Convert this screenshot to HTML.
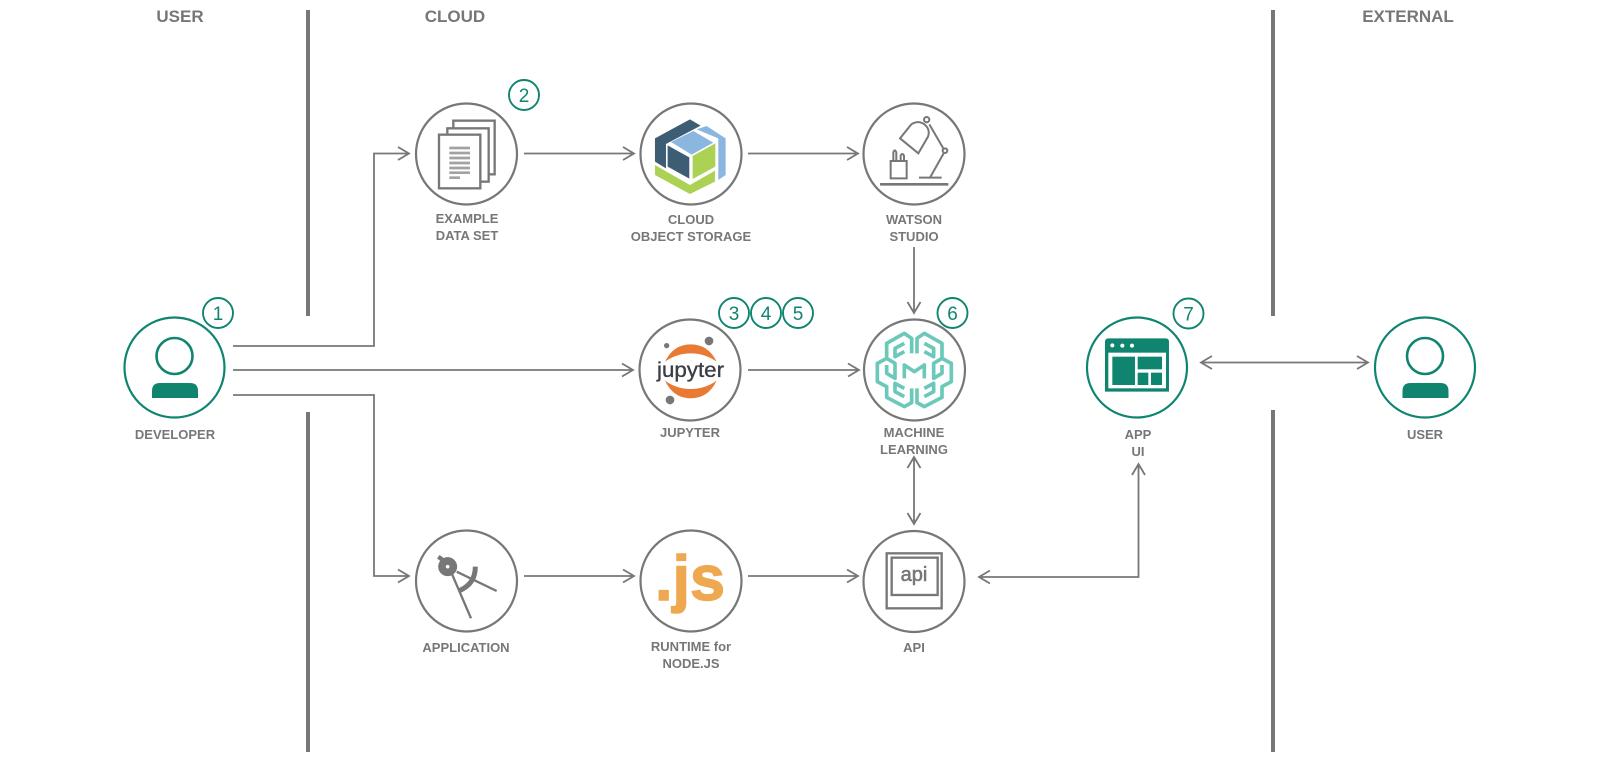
<!DOCTYPE html>
<html><head><meta charset="utf-8"><style>
html,body{margin:0;padding:0;background:#fff;width:1601px;height:763px;overflow:hidden}
svg{display:block}
.l{font:bold 13px "Liberation Sans",sans-serif;fill:#777;text-anchor:middle}
.h{font:bold 17px "Liberation Sans",sans-serif;fill:#777;text-anchor:middle}
.b{font:19px "Liberation Sans",sans-serif;fill:#0f8570;text-anchor:middle}
.c{fill:#fff;stroke:#777;stroke-width:2.2}
.g{fill:#fff;stroke:#0f8570;stroke-width:2.2}
.bd{fill:#fff;stroke:#0f8570;stroke-width:1.9}
.a{fill:none;stroke:#777;stroke-width:1.8}
</style></head><body>
<svg width="1601" height="763" viewBox="0 0 1601 763" xmlns="http://www.w3.org/2000/svg">
<!-- lanes -->
<g stroke="#777" stroke-width="4" fill="none">
<path d="M308 10V316M308 412V752M1273 10V316M1273 410V752"/>
</g>
<text class="h" x="180" y="22">USER</text>
<text class="h" x="455" y="22">CLOUD</text>
<text class="h" x="1408" y="22">EXTERNAL</text>

<!-- connectors -->
<g class="a">
<path d="M233 346H374V153.500H408M398 147L409 153.500L398 160"/>
<path d="M233 370H633M622 363.500L633 370L622 376.500"/>
<path d="M233 395H374V576H408M398 569.500L409 576L398 582.500"/>
<path d="M524 153.500H634M623 147L634 153.500L623 160"/>
<path d="M748 153.500H858M847 147L858 153.500L847 160"/>
<path d="M914 247V313M907.500 302L914 313L920.500 302"/>
<path d="M748 370H859M848 363.500L859 370L848 376.500"/>
<path d="M524 576H634M623 569.500L634 576L623 582.500"/>
<path d="M748 576H858M847 569.500L858 576L847 582.500"/>
<path d="M914 457V524M907.500 468L914 457L920.500 468M907.500 513L914 524L920.500 513"/>
<path d="M979 577H1138.500V464M990 570.500L979 577L990 583.500M1132 475L1138.500 464L1145 475"/>
<path d="M1201 362.500H1368M1212 356L1201 362.500L1212 369M1357 356L1368 362.500L1357 369"/>
</g>

<!-- circles -->
<circle class="g" cx="174.500" cy="367.500" r="50"/>
<circle class="c" cx="466.500" cy="154" r="50.500"/>
<circle class="c" cx="691" cy="154" r="50.500"/>
<circle class="c" cx="914" cy="154" r="50.500"/>
<circle class="c" cx="690" cy="370" r="50.500"/>
<circle class="c" cx="914.500" cy="370" r="50.500"/>
<circle class="c" cx="466.500" cy="581" r="50.500"/>
<circle class="c" cx="691" cy="581" r="50.500"/>
<circle class="c" cx="914" cy="581.500" r="50.500"/>
<circle class="g" cx="1137" cy="367.500" r="50"/>
<circle class="g" cx="1425" cy="367.500" r="50"/>

<!-- person icons -->
<circle cx="174.500" cy="356" r="18" fill="none" stroke="#0f8570" stroke-width="2.6"/>
<path d="M152 398V391Q152 383 160 383H190Q198 383 198 391V398Z" fill="#0f8570"/>
<circle cx="1425" cy="356" r="18" fill="none" stroke="#0f8570" stroke-width="2.6"/>
<path d="M1402.500 398V391Q1402.500 383 1410.500 383H1440.500Q1448.500 383 1448.500 391V398Z" fill="#0f8570"/>

<!-- documents -->
<g transform="translate(400,70) scale(.3333)" fill="#fff" stroke="#777" stroke-width="7">
<rect x="160" y="152" width="124" height="161"/>
<rect x="142" y="175" width="124" height="160"/>
<rect x="117" y="194" width="124" height="161"/>
<g stroke-width="8" stroke="#a2a2a2" fill="none">
<path d="M148 234H210M148 249H210M148 264H210M148 279H210M148 294H210M148 308H210M148 323H180"/>
</g>
</g>

<!-- object storage cube -->
<g transform="translate(400,70) scale(.3333)">
<path d="M765 205L870 148L902 167L798 222V295L765 275Z" fill="#3d5d75"/>
<path d="M803 226L868 262V326L803 290Z" fill="#3d5d75"/>
<path d="M813 216L880 183L940 218L875 254Z" fill="#8ab6e0"/>
<path d="M890 178L920 168L977 205V315L955 330V205Z" fill="#8ab6e0"/>
<path d="M878 258L946 220V290L878 327Z" fill="#abd155"/>
<path d="M765 285L870 345L945 302V335L870 372L765 315Z" fill="#abd155"/>
</g>

<!-- watson studio -->
<g transform="translate(840,95) scale(.3333)" fill="none" stroke="#777" stroke-width="6">
<path d="M180 130L214 88Q235 75 253 88Q272 103 264 125L235 175Z"/>
<circle cx="260" cy="74" r="8"/>
<path d="M268 88L310 160"/>
<circle cx="315" cy="167" r="7"/>
<path d="M311 175L270 248M237 248H305"/>
<path d="M120 268H325" stroke-width="8"/>
<path d="M152 198H200V250H152Z"/>
<path d="M160 198V172Q164 160 169 172V198M182 198V182Q187 172 192 182V198"/>
</g>

<!-- jupyter -->
<g transform="translate(620,285) scale(.3333)">
<path d="M135 230Q160 178 212 178Q265 178 290 230Q255 205 212 205Q170 205 135 230Z" fill="#e87a33"/>
<path d="M135 287Q160 340 212 340Q265 340 290 287Q255 312 212 312Q170 312 135 287Z" fill="#e87a33"/>
<circle cx="267" cy="168" r="13" fill="#777"/>
<circle cx="140" cy="182" r="8" fill="#777"/>
<circle cx="150" cy="345" r="13" fill="#777"/>
</g>
<text x="657" y="377" font-family="'Liberation Sans',sans-serif" font-size="21" fill="#3a3f45" stroke="#3a3f45" stroke-width=".35" textLength="67" lengthAdjust="spacingAndGlyphs">jupyter</text>

<!-- brain -->
<g transform="translate(845,310) scale(.3333)" fill="none" stroke="#6cc9b9" stroke-width="11" stroke-linejoin="round">
<path d="M200 130V85L178 70L125 100V145L97 160V215L125 230V262L178 290L200 278V235"/>
<path d="M178 125L150 140V115L178 100"/>
<path d="M125 145L150 160V205L125 190V165"/>
<path d="M178 235L150 220V245L178 260"/>
<g transform="translate(416,0) scale(-1,1)">
<path d="M200 130V85L178 70L125 100V145L97 160V215L125 230V262L178 290L200 278V235"/>
<path d="M178 125L150 140V115L178 100"/>
<path d="M125 145L150 160V205L125 190V165"/>
<path d="M178 235L150 220V245L178 260"/>
</g>
<path d="M178 205V165L208 185L238 165V205"/>
</g>

<!-- app icon -->
<g transform="translate(1055,290) scale(.3333)">
<path d="M150 305V155Q150 145 160 145H332Q342 145 342 155V305Z" fill="#0f8570"/>
<rect x="160" y="188" width="173" height="107" fill="#fff"/>
<rect x="172" y="200" width="68" height="85" fill="#0f8570"/>
<rect x="248" y="200" width="73" height="38" fill="#0f8570"/>
<rect x="248" y="248" width="32" height="37" fill="#0f8570"/>
<rect x="288" y="248" width="33" height="37" fill="#0f8570"/>
<circle cx="172" cy="166" r="6" fill="#fff"/>
<circle cx="202" cy="167" r="6" fill="#fff"/>
<circle cx="231" cy="167" r="6" fill="#fff"/>
</g>

<!-- application compass -->
<g transform="translate(400,510) scale(.3333)" stroke="#777" fill="none">
<path d="M155 190L213 325M170 185L290 243" stroke-width="7"/>
<path d="M226 170Q226 222 178 242" stroke-width="15"/>
<path d="M115 140L128 150" stroke-width="13"/>
<circle cx="143" cy="170" r="17" stroke-width="23"/>
</g>

<!-- node js -->
<text x="655" y="600" font-family="'Liberation Sans',sans-serif" font-weight="bold" font-size="63" fill="#eea850" stroke="#eea850" stroke-width="1.4" textLength="70" lengthAdjust="spacingAndGlyphs">.js</text>

<!-- api -->
<g transform="translate(840,510) scale(.3333)" fill="none" stroke="#777" stroke-width="7">
<rect x="140" y="130" width="165" height="165"/>
<rect x="155" y="143" width="138" height="112"/>
</g>
<text x="914" y="581" text-anchor="middle" font-family="'Liberation Sans',sans-serif" font-size="20" fill="#777" stroke="#777" stroke-width=".6">api</text>

<!-- badges -->
<circle class="bd" cx="218" cy="313" r="15"/><text class="b" x="218" y="320">1</text>
<circle class="bd" cx="524" cy="95" r="15"/><text class="b" x="524" y="102">2</text>
<circle class="bd" cx="734" cy="313" r="15"/><text class="b" x="734" y="320">3</text>
<circle class="bd" cx="766" cy="313" r="15"/><text class="b" x="766" y="320">4</text>
<circle class="bd" cx="798" cy="313" r="15"/><text class="b" x="798" y="320">5</text>
<circle class="bd" cx="952.500" cy="313" r="15"/><text class="b" x="952.500" y="320">6</text>
<circle class="bd" cx="1188.500" cy="313.500" r="15"/><text class="b" x="1188.500" y="320.500">7</text>

<!-- labels -->
<text class="l" x="175" y="439">DEVELOPER</text>
<text class="l" x="467" y="223">EXAMPLE</text>
<text class="l" x="467" y="240">DATA SET</text>
<text class="l" x="691" y="224">CLOUD</text>
<text class="l" x="691" y="241">OBJECT STORAGE</text>
<text class="l" x="914" y="224">WATSON</text>
<text class="l" x="914" y="241">STUDIO</text>
<text class="l" x="690" y="437">JUPYTER</text>
<text class="l" x="914" y="437">MACHINE</text>
<text class="l" x="914" y="454">LEARNING</text>
<text class="l" x="466" y="652">APPLICATION</text>
<text class="l" x="691" y="651">RUNTIME for</text>
<text class="l" x="691" y="668">NODE.JS</text>
<text class="l" x="914" y="652">API</text>
<text class="l" x="1138" y="439">APP</text>
<text class="l" x="1138" y="456">UI</text>
<text class="l" x="1425" y="439">USER</text>
</svg>
</body></html>
